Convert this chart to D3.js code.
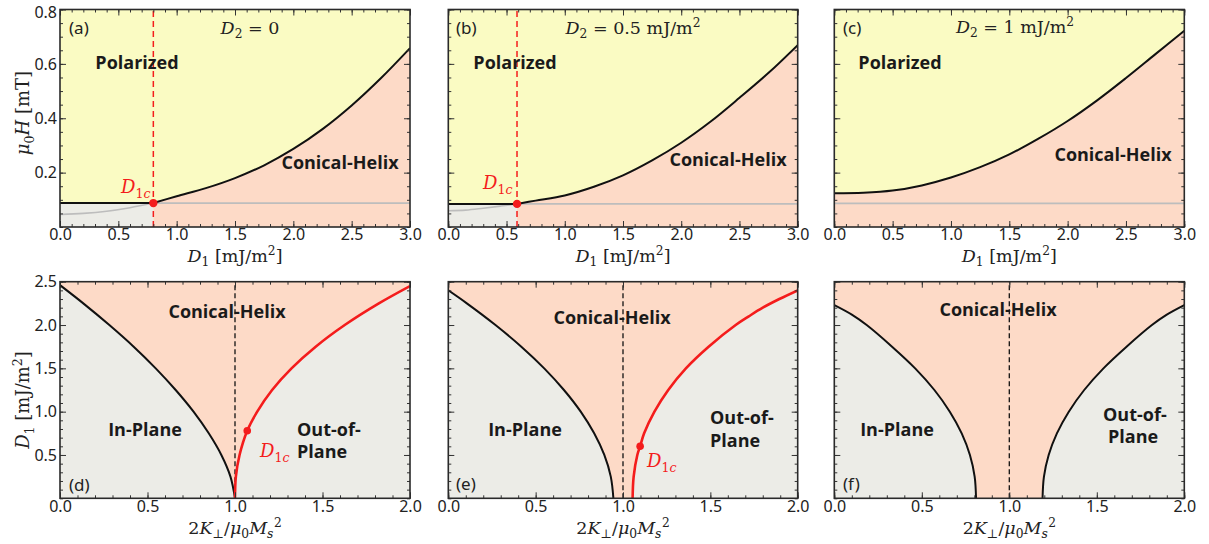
<!DOCTYPE html>
<html>
<head>
<meta charset="utf-8">
<script src="https://cdn.jsdelivr.net/npm/d3@7"></script>
<style>
  html, body { margin: 0; padding: 0; background: #fff; }
  svg { display: block; }
</style>
</head>
<body>
<svg id="chart" width="1209" height="544"></svg>
<script>
// ---------------- DATA ----------------
const panelTags = ["(a)", "(b)", "(c)", "(d)", "(e)", "(f)"];
const d2Values = ["0", "0.5", "1"];
const xTicksTop = [0, 0.5, 1, 1.5, 2, 2.5, 3];
const yTicksTop = [0.2, 0.4, 0.6, 0.8];
const xTicksBottom = [0, 0.5, 1, 1.5, 2];
const yTicksBottom = [0.5, 1, 1.5, 2, 2.5];

// critical field (flat line) and critical D1 for the top panels
const hCrit = [0.088, 0.085, 0.087];
const d1c = [0.80, 0.59, null];

// upper boundary of the conical-helix phase [D1, mu0H]
const boundaryA = [[0.80, 0.088], [1.0, 0.113], [1.25, 0.143], [1.5, 0.18], [1.75, 0.227], [2.0, 0.287], [2.25, 0.36], [2.5, 0.447], [2.75, 0.547], [3.0, 0.658]];
const boundaryB = [[0.59, 0.085], [0.75, 0.097], [1.0, 0.116], [1.25, 0.148], [1.5, 0.19], [1.75, 0.245], [2.0, 0.31], [2.25, 0.387], [2.5, 0.475], [2.75, 0.567], [3.0, 0.669]];
const boundaryC = [[0, 0.124], [0.25, 0.126], [0.5, 0.134], [0.75, 0.153], [1.0, 0.182], [1.25, 0.22], [1.5, 0.267], [1.75, 0.325], [2.0, 0.39], [2.25, 0.465], [2.5, 0.548], [2.75, 0.635], [3.0, 0.722]];
// faint grey curves below D1c
const greyA = [[0, 0.046], [0.2, 0.05], [0.4, 0.058], [0.6, 0.071], [0.8, 0.088]];
const greyB = [[0, 0.06], [0.15, 0.062], [0.3, 0.069], [0.45, 0.077], [0.59, 0.085]];

// bottom panels: phase boundaries [2K/mu0Ms^2, D1]
const leftD = [[1.0, 0], [0.974, 0.25], [0.922, 0.5], [0.85, 0.75], [0.763, 1.0], [0.661, 1.25], [0.547, 1.5], [0.421, 1.75], [0.282, 2.0], [0.133, 2.25], [0, 2.46]];
const rightD = [[1.0, 0], [1.005, 0.25], [1.026, 0.5], [1.07, 0.78], [1.127, 1.0], [1.212, 1.25], [1.323, 1.5], [1.461, 1.75], [1.627, 2.0], [1.822, 2.25], [2.0, 2.45]];
const leftE = [[0.945, 0], [0.93, 0.25], [0.893, 0.5], [0.835, 0.75], [0.758, 1.0], [0.662, 1.25], [0.549, 1.5], [0.418, 1.75], [0.27, 2.0], [0.106, 2.25], [0, 2.40]];
const rightE = [[1.055, 0], [1.061, 0.25], [1.082, 0.5], [1.098, 0.6], [1.121, 0.75], [1.18, 1.0], [1.259, 1.25], [1.36, 1.5], [1.49, 1.75], [1.645, 2.0], [1.72, 2.1], [1.8, 2.2], [1.895, 2.3], [2.0, 2.40]];
const leftF = [[0.81, 0], [0.802, 0.25], [0.775, 0.5], [0.728, 0.75], [0.66, 1.0], [0.572, 1.25], [0.462, 1.5], [0.33, 1.75], [0.185, 2.0], [0.1, 2.12], [0, 2.23]];
const rightF = [[1.19, 0], [1.198, 0.25], [1.225, 0.5], [1.272, 0.75], [1.34, 1.0], [1.428, 1.25], [1.538, 1.5], [1.67, 1.75], [1.815, 2.0], [1.9, 2.12], [2.0, 2.23]];
const dotD = [1.07, 0.78];
const dotE = [1.098, 0.60];

// ---------------- STYLE / LAYOUT ----------------
const C_YELLOW = "#fafbc3";
const C_SALMON = "#fddac7";
const C_GREY = "#ececE7";
const C_RED = "#f41c1c";
const SANS = "'Noto Sans', 'Open Sans', sans-serif";
const BOLD = "'Open Sans', 'Noto Sans', sans-serif";
const SERIF = "'DejaVu Serif', 'Liberation Serif', serif";
const TICK_FS = 16;

const cols = [[60, 410], [448.3, 797.7], [834.3, 1184.3]];
const rowsY = [[9.5, 227], [281.7, 498.3]];

const svg = d3.select("#chart");

function mathText(g, x, y, parts, o = {}) {
  const size = o.size || 17;
  const t = g.append("text")
    .attr("x", x).attr("y", y)
    .attr("font-family", SERIF)
    .attr("font-size", size)
    .attr("fill", o.color || "#222")
    .attr("text-anchor", o.anchor || "start");
  if (o.rotate) t.attr("transform", `rotate(-90,${x},${y})`);
  let cur = 0;
  parts.forEach(p => {
    const [s, k, dx] = p;
    let target = 0, fs = null;
    if (k.startsWith("sub")) { target = 0.25 * size; fs = 0.7 * size; }
    if (k.startsWith("sup")) { target = -0.38 * size; fs = 0.7 * size; }
    const ts = t.append("tspan").text(s).attr("dy", target - cur);
    if (fs) ts.attr("font-size", fs);
    if (k.endsWith("i")) ts.attr("font-style", "italic");
    if (dx) ts.attr("dx", dx);
    cur = target;
  });
  return t;
}

function frameAndAxes(g, x, y, xMajor, xMinor, yMajor, yMinor, showYLabels, yFmt) {
  const [x0, x1] = x.range();
  const [yb, yt] = y.range();
  const axes = g.append("g");
  const mk = (ax, tr, sz) => {
    const a = axes.append("g").attr("transform", tr).call(ax.tickSize(sz).tickFormat(""));
    a.select(".domain").remove();
    a.selectAll("line").attr("stroke", "#333").attr("stroke-width", 1);
    return a;
  };
  mk(d3.axisBottom(x).tickValues(xMinor), `translate(0,${yb})`, -3);
  mk(d3.axisTop(x).tickValues(xMinor), `translate(0,${yt})`, -3);
  mk(d3.axisLeft(y).tickValues(yMinor), `translate(${x0},0)`, -3);
  mk(d3.axisRight(y).tickValues(yMinor), `translate(${x1},0)`, -3);
  mk(d3.axisTop(x).tickValues(xMajor), `translate(0,${yt})`, -6);
  mk(d3.axisRight(y).tickValues(yMajor), `translate(${x1},0)`, -6);
  const b = axes.append("g").attr("transform", `translate(0,${yb})`)
    .call(d3.axisBottom(x).tickValues(xMajor).tickSize(-6).tickPadding(2).tickFormat(d3.format(".1f")));
  b.select(".domain").remove();
  b.selectAll("line").attr("stroke", "#333").attr("stroke-width", 1);
  b.selectAll("text").attr("font-family", SANS).attr("font-size", TICK_FS).attr("fill", "#222");
  const l = axes.append("g").attr("transform", `translate(${x0},0)`)
    .call(d3.axisLeft(y).tickValues(yMajor).tickSize(-6).tickPadding(3)
      .tickFormat(showYLabels ? d3.format(yFmt) : ""));
  l.select(".domain").remove();
  l.selectAll("line").attr("stroke", "#333").attr("stroke-width", 1);
  l.selectAll("text").attr("font-family", SANS).attr("font-size", TICK_FS).attr("fill", "#222");
  // keep the topmost label fully inside the page
  l.selectAll(".tick").filter(d => d === yMajor[yMajor.length - 1] && y(d) < 15)
    .select("text").attr("dy", "0.5em");
  g.append("rect").attr("x", x0).attr("y", yt).attr("width", x1 - x0).attr("height", yb - yt)
    .attr("fill", "none").attr("stroke", "#2a2a2a").attr("stroke-width", 1.6);
}

function regionLabel(g, x, y, txt, anchor = "middle") {
  g.append("text").attr("x", x).attr("y", y).attr("text-anchor", anchor)
    .attr("font-family", BOLD).attr("font-weight", 700).attr("font-size", 18)
    .attr("fill", "#1a1a1a").text(txt);
}
function tagLabel(g, x, y, txt) {
  g.append("text").attr("x", x).attr("y", y)
    .attr("font-family", SANS).attr("font-size", 17).attr("fill", "#222").text(txt);
}
function d1cLabel(g, x, y) {
  mathText(g, x, y, [["D", "i"], ["1", "sub"], ["c", "subi"]], { color: C_RED, size: 18 });
}

// ---------------- TOP ROW ----------------
const boundaries = [boundaryA, boundaryB, boundaryC];
const greys = [greyA, greyB, null];
const xMinorTop = d3.range(0, 3.0001, 0.1);
const yMinorTop = d3.range(0, 0.8001, 0.05);

cols.forEach((c, i) => {
  const g = svg.append("g");
  const x = d3.scaleLinear().domain([0, 3]).range(c);
  const y = d3.scaleLinear().domain([0, 0.8]).range([rowsY[0][1], rowsY[0][0]]);
  const clipId = "clipT" + i;
  g.append("clipPath").attr("id", clipId).append("rect")
    .attr("x", c[0]).attr("y", rowsY[0][0]).attr("width", c[1] - c[0]).attr("height", rowsY[0][1] - rowsY[0][0]);
  const p = g.append("g").attr("clip-path", `url(#${clipId})`);
  p.append("rect").attr("x", c[0]).attr("y", rowsY[0][0]).attr("width", c[1] - c[0])
    .attr("height", rowsY[0][1] - rowsY[0][0]).attr("fill", C_YELLOW);
  const bd = boundaries[i];
  const curve = d3.curveCatmullRom.alpha(0.5);
  p.append("path").datum(bd).attr("fill", C_SALMON)
    .attr("d", d3.area().x(d => x(d[0])).y0(y(0)).y1(d => y(d[1])).curve(curve));
  const flat = d1c[i] != null ? [[0, hCrit[i]], [d1c[i], hCrit[i]]] : null;
  if (flat) {
    p.append("path").datum(flat).attr("fill", C_GREY)
      .attr("d", d3.area().x(d => x(d[0])).y0(y(0)).y1(d => y(d[1])));
  }
  p.append("path").datum([[0, hCrit[i]], [3, hCrit[i]]]).attr("fill", "none")
    .attr("stroke", "#bdbdbd").attr("stroke-width", 1.6)
    .attr("d", d3.line().x(d => x(d[0])).y(d => y(d[1])));
  if (greys[i]) {
    p.append("path").datum(greys[i]).attr("fill", "none")
      .attr("stroke", "#bdbdbd").attr("stroke-width", 1.6)
      .attr("d", d3.line().x(d => x(d[0])).y(d => y(d[1])).curve(d3.curveMonotoneX));
  }
  if (flat) {
    p.append("path").datum(flat).attr("fill", "none").attr("stroke", "#111").attr("stroke-width", 2)
      .attr("d", d3.line().x(d => x(d[0])).y(d => y(d[1])));
  }
  p.append("path").datum(bd).attr("fill", "none").attr("stroke", "#111").attr("stroke-width", 2)
    .attr("d", d3.line().x(d => x(d[0])).y(d => y(d[1])).curve(curve));
  if (d1c[i] != null) {
    p.append("line").attr("x1", x(d1c[i])).attr("x2", x(d1c[i]))
      .attr("y1", y(0)).attr("y2", y(0.8))
      .attr("stroke", C_RED).attr("stroke-width", 1.5).attr("stroke-dasharray", "6,4");
    p.append("circle").attr("cx", x(d1c[i])).attr("cy", y(hCrit[i])).attr("r", 4.2).attr("fill", C_RED);
  }
  frameAndAxes(g, x, y, xTicksTop, xMinorTop, yTicksTop, yMinorTop, i === 0, ".1f");
  mathText(g, (c[0] + c[1]) / 2, 262, [["D", "i"], ["1", "sub"], [" [mJ/m", "r"], ["2", "sup"], ["]", "r"]], { anchor: "middle", size: 17.5 });
});

{
  const g = svg.append("g");
  tagLabel(g, 69, 34, panelTags[0]);
  tagLabel(g, 456, 34, panelTags[1]);
  tagLabel(g, 843, 34, panelTags[2]);
  mathText(g, 250, 34, [["D", "i"], ["2", "sub"], [" = " + d2Values[0], "r"]], { anchor: "middle", size: 17.5 });
  mathText(g, 633, 34, [["D", "i"], ["2", "sub"], [" = " + d2Values[1] + " mJ/m", "r"], ["2", "sup"]], { anchor: "middle", size: 17.5 });
  mathText(g, 1015, 33, [["D", "i"], ["2", "sub"], [" = " + d2Values[2] + " mJ/m", "r"], ["2", "sup"]], { anchor: "middle", size: 17.5 });
  regionLabel(g, 137, 69, "Polarized");
  regionLabel(g, 515, 69, "Polarized");
  regionLabel(g, 900, 69, "Polarized");
  regionLabel(g, 340, 169, "Conical-Helix");
  regionLabel(g, 728, 166, "Conical-Helix");
  regionLabel(g, 1113, 161, "Conical-Helix");
  d1cLabel(g, 121, 193);
  d1cLabel(g, 483, 189);
  mathText(g, 29, 113, [["μ", "i"], ["0", "sub"], ["H", "i"], [" [mT]", "r"]], { anchor: "middle", size: 18, rotate: true });
}

// ---------------- BOTTOM ROW ----------------
const lefts = [leftD, leftE, leftF];
const rights = [rightD, rightE, rightF];
const rightRed = [true, true, false];
const dots = [dotD, dotE, null];
const xMinorBot = d3.range(0, 2.0001, 0.1);
const yMinorBot = d3.range(0, 2.5001, 0.1);

cols.forEach((c, i) => {
  const g = svg.append("g");
  const x = d3.scaleLinear().domain([0, 2]).range(c);
  const y = d3.scaleLinear().domain([0, 2.5]).range([rowsY[1][1], rowsY[1][0]]);
  const clipId = "clipB" + i;
  g.append("clipPath").attr("id", clipId).append("rect")
    .attr("x", c[0]).attr("y", rowsY[1][0]).attr("width", c[1] - c[0]).attr("height", rowsY[1][1] - rowsY[1][0]);
  const p = g.append("g").attr("clip-path", `url(#${clipId})`);
  p.append("rect").attr("x", c[0]).attr("y", rowsY[1][0]).attr("width", c[1] - c[0])
    .attr("height", rowsY[1][1] - rowsY[1][0]).attr("fill", C_SALMON);
  const crv = d3.curveCatmullRom.alpha(0.5);
  const area = d3.area().y(d => y(d[1])).x0(d => x(d[0])).curve(crv);
  p.append("path").datum(lefts[i]).attr("fill", C_GREY).attr("d", area.x1(x(0))(lefts[i]));
  p.append("path").datum(rights[i]).attr("fill", C_GREY).attr("d", area.x1(x(2))(rights[i]));
  p.append("line").attr("x1", x(1)).attr("x2", x(1)).attr("y1", y(0)).attr("y2", y(2.5))
    .attr("stroke", "#111").attr("stroke-width", 1.3).attr("stroke-dasharray", "5,3");
  const line = d3.line().x(d => x(d[0])).y(d => y(d[1])).curve(crv);
  p.append("path").datum(lefts[i]).attr("fill", "none").attr("stroke", "#111").attr("stroke-width", 2).attr("d", line);
  p.append("path").datum(rights[i]).attr("fill", "none")
    .attr("stroke", rightRed[i] ? C_RED : "#111").attr("stroke-width", rightRed[i] ? 2.6 : 2).attr("d", line);
  if (dots[i]) p.append("circle").attr("cx", x(dots[i][0])).attr("cy", y(dots[i][1])).attr("r", 3.8).attr("fill", C_RED);
  frameAndAxes(g, x, y, xTicksBottom, xMinorBot, yTicksBottom, yMinorBot, i === 0, ".1f");
  mathText(g, (c[0] + c[1]) / 2, 534, [["2", "r"], ["K", "i"], ["⊥", "sub"], ["/", "r"], ["μ", "i"], ["0", "sub"], ["M", "i"], ["s", "subi"], ["2", "sup", 0.5]], { anchor: "middle", size: 17.5 });
});

{
  const g = svg.append("g");
  regionLabel(g, 227, 318, "Conical-Helix");
  regionLabel(g, 612, 324, "Conical-Helix");
  regionLabel(g, 998, 316, "Conical-Helix");
  regionLabel(g, 145, 436, "In-Plane");
  regionLabel(g, 525, 436, "In-Plane");
  regionLabel(g, 897, 436, "In-Plane");
  regionLabel(g, 297, 436, "Out-of-", "start");
  regionLabel(g, 297, 458, "Plane", "start");
  regionLabel(g, 710, 424, "Out-of-", "start");
  regionLabel(g, 710, 447, "Plane", "start");
  regionLabel(g, 1103, 421, "Out-of-", "start");
  regionLabel(g, 1108, 443, "Plane", "start");
  d1cLabel(g, 260, 457);
  d1cLabel(g, 647, 467);
  tagLabel(g, 69, 491, panelTags[3]);
  tagLabel(g, 456, 490, panelTags[4]);
  tagLabel(g, 843, 490, panelTags[5]);
  mathText(g, 29, 400, [["D", "i"], ["1", "sub"], [" [mJ/m", "r"], ["2", "sup"], ["]", "r"]], { anchor: "middle", size: 18, rotate: true });
}
</script>
</body>
</html>
